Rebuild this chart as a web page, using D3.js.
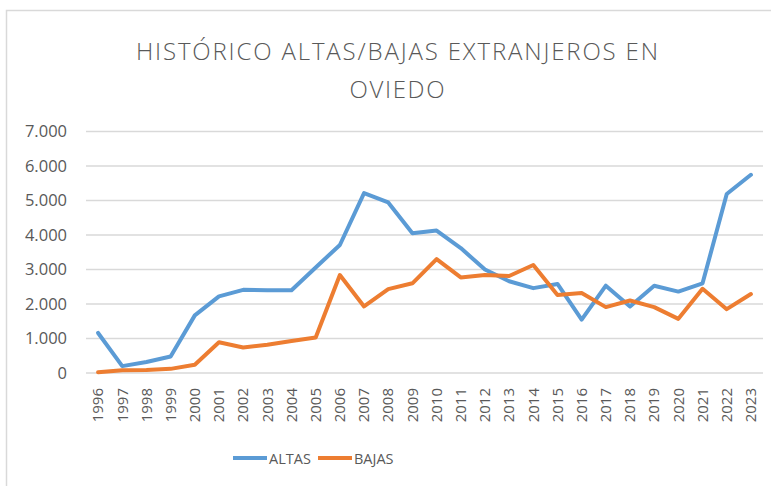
<!DOCTYPE html>
<html>
<head>
<meta charset="utf-8">
<script src="https://cdn.jsdelivr.net/npm/d3@7"></script>
<style>
  body { margin: 0; background: #fff; }
  text { font-family: "Open Sans", sans-serif; fill: #595959; }
</style>
</head>
<body>
<div id="chart"></div>
<script>
// Histórico altas/bajas extranjeros en Oviedo

var years = ["1996","1997","1998","1999","2000","2001","2002","2003","2004","2005",
             "2006","2007","2008","2009","2010","2011","2012","2013","2014","2015",
             "2016","2017","2018","2019","2020","2021","2022","2023"];

var altas = [1160, 200, 320, 480, 1670, 2220, 2410, 2400, 2400, 3060,
             3710, 5215, 4945, 4050, 4130, 3620, 3000, 2660, 2460, 2580,
             1545, 2530, 1930, 2530, 2360, 2600, 5190, 5745];

var bajas = [20, 80, 90, 120, 240, 890, 740, 820, 930, 1030,
             2840, 1930, 2430, 2600, 3300, 2770, 2840, 2810, 3130, 2260,
             2320, 1910, 2100, 1910, 1570, 2440, 1850, 2290];

var yTicks = [0, 1000, 2000, 3000, 4000, 5000, 6000, 7000];

var titleLines = ["HISTÓRICO ALTAS/BAJAS EXTRANJEROS EN", "OVIEDO"];

var series = [
    { name: "ALTAS", values: altas, color: "#5B9BD5" },
    { name: "BAJAS", values: bajas, color: "#ED7D31" }
];

var width = 771;
var height = 486;
var margin = { left: 86, right: 8, top: 131.5, bottom: 113 };

var svg = d3.select("#chart")
            .append("svg")
            .attr("width", width)
            .attr("height", height);

// chart area border
svg.append("rect")
   .attr("x", 6.5).attr("y", 10.5)
   .attr("width", 800).attr("height", 500)
   .attr("fill", "none")
   .attr("stroke", "#d9d9d9")
   .attr("stroke-width", 1.5);

// title
svg.selectAll(".title")
   .data(titleLines)
   .enter()
   .append("text")
   .attr("class", "title")
   .attr("x", 397)
   .attr("y", function(d, i) { return 60 + i * 38; })
   .attr("text-anchor", "middle")
   .attr("textLength", function(d, i) { return i == 0 ? 522 : 95; })
   .attr("lengthAdjust", "spacing")
   .style("font-size", "24px")
   .style("font-weight", 300)
   .text(function(d) { return d; });

var x = d3.scaleBand()
          .domain(years)
          .range([margin.left, width - margin.right]);

var y = d3.scaleLinear()
          .domain([0, 7000])
          .range([height - margin.bottom, margin.top]);

// gridlines
svg.append("g")
   .selectAll("line")
   .data(yTicks)
   .enter()
   .append("line")
   .attr("x1", margin.left)
   .attr("x2", width - margin.right)
   .attr("y1", function(d) { return y(d); })
   .attr("y2", function(d) { return y(d); })
   .attr("stroke", "#d9d9d9")
   .attr("stroke-width", 1.5);

// y axis labels
var fmt = d3.formatLocale({ decimal: ",", thousands: ".", grouping: [3], currency: ["", "€"] }).format(",d");

var yAxis = d3.axisLeft(y)
              .tickValues(yTicks)
              .tickFormat(fmt)
              .tickSize(0)
              .tickPadding(19);

svg.append("g")
   .attr("transform", "translate(" + margin.left + ",0)")
   .call(yAxis)
   .call(function(g) { g.select(".domain").remove(); })
   .selectAll("text")
   .style("font-size", "16.5px")
   .attr("fill", "#595959");

// x axis labels
var xAxis = d3.axisBottom(x).tickSize(0).tickPadding(0);

svg.append("g")
   .attr("transform", "translate(0," + (height - margin.bottom) + ")")
   .call(xAxis)
   .call(function(g) { g.select(".domain").remove(); })
   .selectAll("text")
   .style("font-size", "15px")
   .attr("fill", "#595959")
   .attr("text-anchor", "end")
   .attr("dy", "0.35em")
   .attr("transform", "translate(0,15) rotate(-90)");

// lines
var line = d3.line()
             .x(function(d, i) { return x(years[i]) + x.bandwidth() / 2; })
             .y(function(d) { return y(d); });

svg.selectAll(".series")
   .data(series)
   .enter()
   .append("path")
   .attr("class", "series")
   .attr("d", function(d) { return line(d.values); })
   .attr("fill", "none")
   .attr("stroke", function(d) { return d.color; })
   .attr("stroke-width", 4)
   .attr("stroke-linejoin", "round")
   .attr("stroke-linecap", "round");

// legend
var legend = svg.selectAll(".legend")
                .data(series)
                .enter()
                .append("g")
                .attr("class", "legend")
                .attr("transform", function(d, i) { return "translate(" + (233 + i * 85) + ",458)"; });

legend.append("line")
      .attr("x1", 0).attr("x2", 34)
      .attr("y1", 0).attr("y2", 0)
      .attr("stroke", function(d) { return d.color; })
      .attr("stroke-width", 4);

legend.append("text")
      .attr("x", 36)
      .attr("y", 6)
      .style("font-size", "14.5px")
      .text(function(d) { return d.name; });
</script>
</body>
</html>
